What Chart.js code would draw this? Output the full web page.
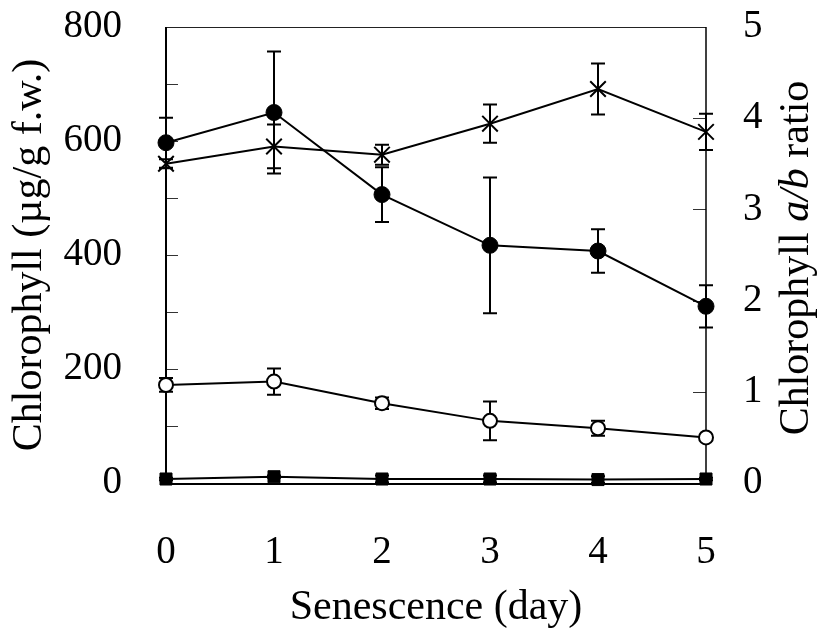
<!DOCTYPE html>
<html>
<head>
<meta charset="utf-8">
<script src="https://cdn.jsdelivr.net/npm/chart.js@4/dist/chart.umd.min.js"></script>
<style>
  html, body { margin: 0; padding: 0; background: #ffffff; }
  #wrap { width: 820px; height: 633px; }
</style>
</head>
<body>
<div id="wrap"><canvas id="c" width="820" height="633"></canvas></div>
<script>
// ---- data ----
const days = [0, 1, 2, 3, 4, 5];

const totalChl     = [597, 650, 506, 417, 407, 310];   // filled circles (left axis)
const totalChlErr  = [44, 107, 48, 119, 38, 37];

const ratioAB      = [3.50, 3.69, 3.60, 3.94, 4.32, 3.85]; // crosses (right axis)
const ratioABErr   = [0.05, 0.24, 0.11, 0.21, 0.28, 0.20];

const chlB         = [172, 178, 140, 109, 96, 80];     // open circles (left axis)
const chlBErr      = [12, 23, 10, 34, 13, 4];

const minorSeries  = [7, 11, 7, 7, 6, 7];              // filled squares (left axis)
const minorErr     = [2, 2, 6, 6, 6, 2];

const leftTicks  = [0, 200, 400, 600, 800];
const rightTicks = [0, 1, 2, 3, 4, 5];
const xTicks     = [0, 1, 2, 3, 4, 5];

const leftTitle  = 'Chlorophyll (µg/g f.w.)';
const rightTitleParts = [['Chlorophyll ', false], ['a/b', true], [' ratio', false]];
const xTitle     = 'Senescence (day)';

// ---- build ----
const FONT = "'Liberation Serif', 'Times New Roman', serif";
const TICK = 39, TITLE = 42;
const pts = (vals) => days.map((d, i) => ({ x: d, y: vals[i] }));

const errorBars = {
  id: 'errorBars',
  beforeDatasetsDraw(chart) {
    const ctx = chart.ctx;
    const xs = chart.scales.x;
    ctx.save();
    ctx.strokeStyle = '#000';
    ctx.lineWidth = 2;
    chart.data.datasets.forEach((ds) => {
      if (!ds.err) return;
      const ys = chart.scales[ds.yAxisID || 'y'];
      ds.data.forEach((p, i) => {
        const e = ds.err[i];
        if (!e) return;
        const px = xs.getPixelForValue(p.x);
        const y1 = ys.getPixelForValue(p.y + e);
        const y2 = ys.getPixelForValue(p.y - e);
        ctx.beginPath();
        ctx.moveTo(px, y1); ctx.lineTo(px, y2);
        ctx.moveTo(px - 7, y1); ctx.lineTo(px + 7, y1);
        ctx.moveTo(px - 7, y2); ctx.lineTo(px + 7, y2);
        ctx.stroke();
      });
    });
    ctx.restore();
  }
};

const frame = {
  id: 'frame',
  beforeDatasetsDraw(chart) {
    const ctx = chart.ctx;
    const a = chart.chartArea;
    const yl = chart.scales.y, yr = chart.scales.y2;
    ctx.save();
    ctx.strokeStyle = '#333';
    ctx.lineWidth = 1;
    ctx.beginPath();
    yl.ticks.forEach(t => {
      const py = Math.round(yl.getPixelForValue(t.value)) + 0.5;
      ctx.moveTo(a.left, py); ctx.lineTo(a.left + 12, py);
    });
    yr.ticks.forEach(t => {
      const py = Math.round(yr.getPixelForValue(t.value)) + 0.5;
      ctx.moveTo(a.right, py); ctx.lineTo(a.right - 13, py);
    });
    ctx.stroke();
    ctx.strokeStyle = '#222';
    ctx.lineWidth = 1;
    ctx.beginPath();
    ctx.moveTo(a.left, a.top + 0.5); ctx.lineTo(a.right, a.top + 0.5);
    ctx.stroke();
    ctx.strokeStyle = '#000';
    ctx.lineWidth = 1.5;
    ctx.beginPath();
    ctx.moveTo(a.right, a.top); ctx.lineTo(a.right, a.bottom);
    ctx.stroke();
    ctx.lineWidth = 2;
    ctx.beginPath();
    ctx.moveTo(a.left, a.top); ctx.lineTo(a.left, a.bottom + 1);
    ctx.moveTo(a.left - 1, a.bottom + 1); ctx.lineTo(a.right + 1, a.bottom + 1);
    ctx.stroke();
    ctx.restore();
  }
};

const rightTitle = {
  id: 'rightTitle',
  afterDraw(chart) {
    const ctx = chart.ctx;
    const a = chart.chartArea;
    ctx.save();
    ctx.fillStyle = '#000';
    ctx.textBaseline = 'middle';
    ctx.textAlign = 'left';
    let total = 0;
    const widths = rightTitleParts.map(([t, it]) => {
      ctx.font = (it ? 'italic ' : '') + TITLE + 'px ' + FONT;
      const w = ctx.measureText(t).width;
      total += w;
      return w;
    });
    ctx.translate(797, (a.top + a.bottom) / 2 + 3);
    ctx.rotate(-Math.PI / 2);
    let x = -total / 2;
    rightTitleParts.forEach(([t, it], i) => {
      ctx.font = (it ? 'italic ' : '') + TITLE + 'px ' + FONT;
      ctx.fillText(t, x, 0);
      x += widths[i];
    });
    ctx.restore();
  }
};

const noPad = (s) => { s.paddingTop = 0; s.paddingBottom = 0; s.paddingLeft = 0; s.paddingRight = 0; };

new Chart(document.getElementById('c'), {
  type: 'line',
  data: {
    datasets: [
      {
        label: 'Total chlorophyll',
        data: pts(totalChl), err: totalChlErr, yAxisID: 'y',
        borderColor: '#000', borderWidth: 2,
        pointStyle: 'circle', pointRadius: 8, pointBackgroundColor: '#000',
        pointBorderColor: '#000', pointBorderWidth: 1, clip: false
      },
      {
        label: 'Chlorophyll a/b ratio',
        data: pts(ratioAB), err: ratioABErr, yAxisID: 'y2',
        borderColor: '#000', borderWidth: 2,
        pointStyle: 'crossRot', pointRadius: 11, pointBorderColor: '#000',
        pointBorderWidth: 2, clip: false
      },
      {
        label: 'Chlorophyll b',
        data: pts(chlB), err: chlBErr, yAxisID: 'y',
        borderColor: '#000', borderWidth: 2,
        pointStyle: 'circle', pointRadius: 7, pointBackgroundColor: '#fff',
        pointBorderColor: '#000', pointBorderWidth: 2, clip: false
      },
      {
        label: 'Minor',
        data: pts(minorSeries), err: minorErr, yAxisID: 'y',
        borderColor: '#000', borderWidth: 2,
        pointStyle: 'rect', pointRadius: 8.5, pointBackgroundColor: '#000',
        pointBorderColor: '#000', pointBorderWidth: 1, clip: false
      }
    ]
  },
  options: {
    responsive: false,
    animation: false,
    layout: { padding: { top: 27, left: 0, right: 0, bottom: 0 } },
    plugins: { legend: { display: false }, tooltip: { enabled: false } },
    scales: {
      x: {
        type: 'linear', min: 0, max: 5,
        afterBuildTicks: (s) => { s.ticks = xTicks.map(v => ({ value: v })); },
        grid: { display: false }, border: { display: false },
        ticks: { padding: 38, color: '#000', font: { family: FONT, size: TICK } },
        title: { display: true, text: xTitle, color: '#000', padding: { top: 0, bottom: 0 },
                 font: { family: FONT, size: TITLE } },
        afterFit: (s) => { s.height = 150; noPad(s); }
      },
      y: {
        type: 'linear', position: 'left', min: 0, max: 800,
        ticks: { stepSize: 100, padding: 36, color: '#000', font: { family: FONT, size: TICK },
                 callback: (v) => leftTicks.includes(v) ? String(v) : '' },
        grid: { display: false }, border: { display: false },
        title: { display: true, text: leftTitle, color: '#000', padding: { top: 5, bottom: 0 },
                 font: { family: FONT, size: TITLE } },
        afterFit: (s) => { s.width = 166; noPad(s); }
      },
      y2: {
        type: 'linear', position: 'right', min: 0, max: 5,
        afterBuildTicks: (s) => { s.ticks = rightTicks.map(v => ({ value: v })); },
        ticks: { padding: 29, color: '#000', font: { family: FONT, size: TICK } },
        grid: { display: false }, border: { display: false },
        afterFit: (s) => { s.width = 114; noPad(s); }
      }
    }
  },
  plugins: [frame, errorBars, rightTitle]
});
</script>
</body>
</html>
